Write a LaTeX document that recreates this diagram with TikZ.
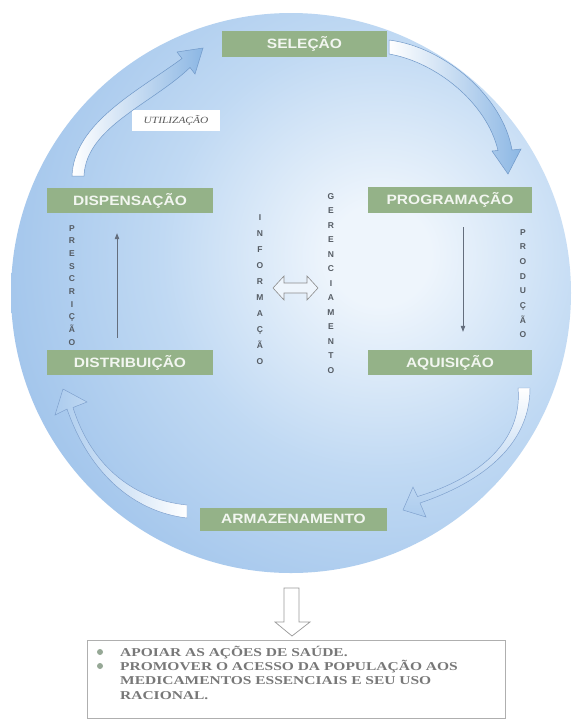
\documentclass[tikz,border=0pt]{standalone}
\usepackage{fontspec}
\setmainfont{Liberation Serif}
\newfontfamily\boxfont[FakeStretch=1.15]{Liberation Sans}
\newfontfamily\lblfont{Liberation Sans}
\newfontfamily\goalfont[FakeStretch=1.29]{Liberation Serif}
\newfontfamily\utilfont[FakeStretch=1.2]{Liberation Serif}
\usetikzlibrary{arrows.meta}
\definecolor{gIn}{RGB}{238,245,252}
\definecolor{gMid}{RGB}{192,217,243}
\definecolor{gOut}{RGB}{156,193,234}
\definecolor{stagegreen}{RGB}{148,178,136}
\definecolor{stagetext}{RGB}{242,246,240}
\definecolor{lettergray}{RGB}{85,92,100}
\definecolor{arrowgray}{RGB}{100,110,125}
\definecolor{arrowblue}{RGB}{140,183,228}
\definecolor{arrowpale}{RGB}{172,204,238}
\definecolor{arrowline}{RGB}{112,152,200}
\definecolor{paleline}{RGB}{124,158,204}
\definecolor{goalgray}{RGB}{120,120,120}
\definecolor{bulletgray}{RGB}{150,168,150}
\definecolor{boxline}{RGB}{175,175,175}
\pgfdeclareradialshading{globe}{\pgfpoint{0bp}{0bp}}{color(0bp)=(gIn); color(3bp)=(gIn); color(13bp)=(gMid); color(25bp)=(gOut); color(50bp)=(gOut)}
\begin{document}
\begin{tikzpicture}[x=1pt,y=-1pt,
  stage/.style={fill=stagegreen, text=stagetext, font=\boxfont\bfseries\fontsize{13.5}{16}\selectfont, inner sep=0pt, minimum height=26pt},
  vlet/.style={font=\lblfont\bfseries\fontsize{8.5}{10}\selectfont, text=lettergray, inner sep=0pt, anchor=base},
  thinarrow/.style={draw=arrowgray, line width=0.7pt, -{Triangle[length=6pt,width=4.5pt]}},
  bigarrow/.style={draw=arrowline, line width=0.5pt},
  palearrow/.style={draw=paleline, line width=0.45pt},
  goal/.style={font=\goalfont\bfseries\fontsize{12}{14}\selectfont, text=goalgray, inner sep=0pt, anchor=base west}
]
\useasboundingbox (0,0) rectangle (579,724);
\fill[white] (0,0) rectangle (579,724);
% globe
\begin{scope}
  \clip (291,293) circle (280pt);
  \shade[shading=globe] (380,255) circle (420pt);
\end{scope}

% stage boxes
\node[stage, minimum width=165pt] (sel) at (304.5,44) {SELEÇÃO};
\node[stage, minimum width=166pt, minimum height=25pt] (disp) at (130,200.5) {DISPENSAÇÃO};
\node[stage, minimum width=164pt] (prog) at (450,200) {PROGRAMAÇÃO};
\node[stage, minimum width=166pt, minimum height=25pt] (dist) at (130,362.5) {DISTRIBUIÇÃO};
\node[stage, minimum width=164pt, minimum height=25pt] (aq) at (450,362.5) {AQUISIÇÃO};
\node[stage, minimum width=187pt, minimum height=23pt] (arm) at (293.5,519) {ARMAZENAMENTO};

\node[fill=white, minimum width=88pt, minimum height=21pt, inner sep=0pt,
  font=\utilfont\itshape\fontsize{9.5}{11}\selectfont, text=black!65] (util) at (176,120) {UTILIZAÇÃO};

% curved arrows
\shadedraw[bigarrow, left color=white, right color=arrowblue]
 (72,176) .. controls (74,123) and (138,91) .. (182,58.5)
 -- (177,52) -- (203,48) -- (195,74) -- (190,67.5)
 .. controls (152,104) and (86,127) .. (84,176) -- cycle;
\shadedraw[bigarrow, left color=white, right color=arrowblue]
 (389,40) .. controls (445,47) and (503,97) .. (512,150)
 -- (521,149) -- (508,174) -- (492,151) -- (498,150.5)
 .. controls (487,103) and (436,62) .. (389,54) -- cycle;
\shadedraw[palearrow, top color=white, bottom color=arrowpale, middle color=arrowpale!55!white]
 (530,388) .. controls (530,445) and (482,482) .. (420,503)
 -- (426,517) -- (403,510) -- (413,487) -- (417.5,496.5)
 .. controls (480,478) and (523,440) .. (518,388) -- cycle;
\shadedraw[palearrow, left color=arrowpale, right color=white, middle color=arrowpale!55!white]
 (187,518) .. controls (135,512) and (90,475) .. (67,409)
 -- (55,415) -- (63,389) -- (87,402) -- (73,407.5)
 .. controls (92,468) and (136,500) .. (187,505) -- cycle;

% vertical letters
\foreach \ch [count=\i from 0] in {I,N,F,O,R,M,A,Ç,Ã,O}
  \node[vlet] (inf\i) at (260, 220+\i*16.1) {\ch};
\foreach \ch [count=\i from 0] in {G,E,R,E,N,C,I,A,M,E,N,T,O}
  \node[vlet] (ger\i) at (331, 199+\i*14.5) {\ch};
\foreach \ch [count=\i from 0] in {P,R,E,S,C,R,I,Ç,Ã,O}
  \node[vlet] (pre\i) at (72, 231+\i*12.67) {\ch};
\foreach \ch [count=\i from 0] in {P,R,O,D,U,Ç,Ã,O}
  \node[vlet] (pro\i) at (523, 235+\i*14.7) {\ch};

% thin arrows
\draw[thinarrow, shorten <=12pt, shorten >=20pt] ([xshift=-13pt]dist.north) -- ([xshift=-13pt]disp.south);
\draw[thinarrow, shorten <=14pt, shorten >=18pt] ([xshift=13pt]prog.south) -- ([xshift=13pt]aq.north);

% double arrow
\filldraw[draw=black!45, fill=gIn, line width=0.6pt]
 (273,288) -- (284,276) -- (284,283) -- (307,283) -- (307,276) -- (318,288)
 -- (307,300) -- (307,293) -- (284,293) -- (284,300) -- cycle;

% down arrow
\filldraw[draw=black!40, fill=white, line width=0.7pt]
 (284,588) -- (299,588) -- (299,622) -- (310,622) -- (292,636) -- (275,622) -- (284,622) -- cycle;

% goals box
\node[draw=boxline, fill=white, line width=0.8pt, minimum width=418pt, minimum height=78pt, inner sep=0pt] (goalbox) at (296,679) {};
\fill[bulletgray] (100,652) circle (3pt);
\fill[bulletgray] (100,666) circle (3pt);
\node[goal] (g1) at (120,656) {APOIAR AS AÇÕES DE SAÚDE.};
\node[goal] (g2) at (120,670.3) {PROMOVER O ACESSO DA POPULAÇÃO AOS};
\node[goal] (g3) at (120,684.6) {MEDICAMENTOS ESSENCIAIS E SEU USO};
\node[goal] (g4) at (120,699) {RACIONAL.};
\end{tikzpicture}
\end{document}
